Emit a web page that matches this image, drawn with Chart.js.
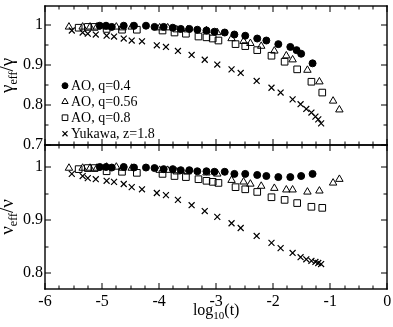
<!DOCTYPE html>
<html>
<head>
<meta charset="utf-8">
<script src="https://cdn.jsdelivr.net/npm/chart.js@4.4.1/dist/chart.umd.min.js"></script>
<style>
  html, body { margin: 0; padding: 0; background: #fff; }
  #wrap { position: relative; width: 393px; height: 327px; }
  canvas { position: absolute; left: 0; top: 0; }
</style>
</head>
<body>
<div id="wrap">
  <canvas id="gamma" width="393" height="327"></canvas>
  <canvas id="nu" width="393" height="327"></canvas>
</div>
<script>
// axis ticks
const xTicks = [-6, -5, -4, -3, -2, -1, 0];
const yTicksTop = [0.7, 0.8, 0.9, 1];
const yTicksBottom = [0.8, 0.9, 1];
const labels = ['AO, q=0.4', 'AO, q=0.56', 'AO, q=0.8', 'Yukawa, z=1.8'];

// AO, q=0.4 (filled circles)
const q04XTop = [-5.04, -4.93, -4.83, -4.62, -4.44, -4.23, -4.08, -3.92, -3.76, -3.62, -3.47, -3.33, -3.17, -3.03, -2.85, -2.68, -2.49, -2.28, -2.12, -1.91, -1.70, -1.59, -1.51, -1.31];
const q04Gamma = [0.998, 0.998, 0.995, 0.998, 0.998, 0.998, 0.995, 0.995, 0.993, 0.990, 0.990, 0.988, 0.986, 0.983, 0.981, 0.976, 0.973, 0.966, 0.961, 0.952, 0.945, 0.937, 0.928, 0.904];
const q04XBottom = [-5.04, -4.93, -4.83, -4.62, -4.44, -4.23, -4.08, -3.92, -3.76, -3.62, -3.47, -3.33, -3.17, -3.03, -2.85, -2.68, -2.49, -2.28, -2.12, -1.91, -1.70, -1.51, -1.31];
const q04Nu = [1.0, 1.0, 0.999, 1.0, 0.999, 0.999, 0.998, 0.996, 0.996, 0.994, 0.994, 0.992, 0.992, 0.991, 0.991, 0.987, 0.987, 0.985, 0.983, 0.981, 0.981, 0.983, 0.987];

// AO, q=0.56 (open triangles)
const q056X = [-5.58, -5.34, -5.21, -5.09, -4.92, -4.75, -4.64, -4.48, -3.99, -3.85, -3.69, -3.50, -3.17, -2.98, -2.73, -2.52, -2.40, -2.21, -1.98, -1.77, -1.66, -1.40, -1.19, -0.95, -0.84];
const q056Gamma = [0.995, 0.995, 0.995, 0.995, 0.995, 0.995, 0.993, 0.995, 0.993, 0.993, 0.988, 0.988, 0.986, 0.981, 0.966, 0.959, 0.954, 0.947, 0.935, 0.923, 0.913, 0.887, 0.858, 0.810, 0.788];
const q056Nu = [0.998, 0.998, 0.998, 0.998, 1.0, 1.0, 0.998, 0.998, 0.994, 0.994, 0.991, 0.991, 0.989, 0.987, 0.975, 0.972, 0.968, 0.964, 0.960, 0.957, 0.957, 0.953, 0.955, 0.970, 0.977];

// AO, q=0.8 (open squares)
const q08X = [-5.41, -5.25, -5.13, -4.92, -4.65, -4.39, -3.94, -3.73, -3.53, -3.31, -3.17, -3.06, -2.96, -2.66, -2.49, -2.28, -2.03, -1.80, -1.58, -1.33, -1.14];
const q08Gamma = [0.993, 0.995, 0.995, 0.990, 0.988, 0.988, 0.986, 0.981, 0.978, 0.971, 0.969, 0.966, 0.961, 0.952, 0.947, 0.937, 0.923, 0.908, 0.889, 0.858, 0.831];
const q08Nu = [0.996, 0.998, 0.998, 0.992, 0.991, 0.989, 0.987, 0.983, 0.981, 0.977, 0.974, 0.972, 0.970, 0.962, 0.958, 0.953, 0.943, 0.938, 0.932, 0.925, 0.923];

// Yukawa, z=1.8 (crosses)
const yukX = [-5.53, -5.34, -5.25, -5.11, -4.92, -4.79, -4.62, -4.48, -4.30, -4.04, -3.88, -3.67, -3.43, -3.20, -2.98, -2.73, -2.57, -2.29, -2.03, -1.87, -1.66, -1.52, -1.42, -1.33, -1.26, -1.21, -1.16];
const yukGamma = [0.986, 0.981, 0.978, 0.976, 0.973, 0.971, 0.966, 0.961, 0.959, 0.949, 0.945, 0.935, 0.925, 0.913, 0.901, 0.889, 0.880, 0.860, 0.843, 0.831, 0.814, 0.802, 0.790, 0.781, 0.771, 0.764, 0.754];
const yukNu = [0.987, 0.983, 0.979, 0.977, 0.974, 0.972, 0.968, 0.962, 0.958, 0.951, 0.947, 0.938, 0.928, 0.917, 0.906, 0.894, 0.885, 0.870, 0.857, 0.847, 0.838, 0.830, 0.826, 0.823, 0.821, 0.819, 0.817];

const SERIF = "'Liberation Serif', 'Times New Roman', serif";
const markers = [
  { pointStyle: 'circle', radius: 3.5, fill: '#000', width: 1 },
  { pointStyle: 'triangle', radius: 4.3, fill: 'rgba(0,0,0,0)', width: 1 },
  { pointStyle: 'rect', radius: 4.7, fill: 'rgba(0,0,0,0)', width: 1 },
  { pointStyle: 'crossRot', radius: 4.2, fill: 'rgba(0,0,0,0)', width: 1.2 }
];

function richText(ctx, parts, x, y) {
  let w = 0;
  parts.forEach(p => { ctx.font = p.size + 'px ' + SERIF; w += ctx.measureText(p.t).width; });
  let cx = x - w / 2;
  parts.forEach(p => {
    ctx.font = p.size + 'px ' + SERIF;
    ctx.fillText(p.t, cx, y + (p.dy || 0));
    cx += ctx.measureText(p.t).width;
  });
}

// frame, inward ticks, titles and legend
const decor = {
  id: 'decor',
  afterDraw(chart, args, opts) {
    const ctx = chart.ctx;
    const a = chart.chartArea;
    const x = chart.scales.x, y = chart.scales.y;
    ctx.save();
    ctx.setLineDash([]);
    ctx.globalAlpha = 1;
    ctx.fillStyle = '#000';
    const L = Math.round(a.left), R = Math.round(a.right), T = Math.round(a.top), B = Math.round(a.bottom);
    // box
    ctx.fillRect(L - 0.7, T - 0.7, R - L + 1.4, 1.4);
    ctx.fillRect(L - 0.7, B - 0.7, R - L + 1.4, 1.4);
    ctx.fillRect(L - 0.7, T - 0.7, 1.4, B - T + 1.4);
    ctx.fillRect(R - 0.7, T - 0.7, 1.4, B - T + 1.4);
    // x ticks every 0.25, inward on both edges
    for (let k = -24; k <= 0; k++) {
      const px = Math.round(x.getPixelForValue(k / 4));
      const len = k % 4 === 0 ? 6 : 3.5;
      ctx.fillRect(px - 0.5, B - len, 1, len);
      ctx.fillRect(px - 0.5, T, 1, len);
    }
    // y ticks every 0.05
    for (let k = Math.ceil(y.min * 20 - 1e-6); k <= Math.floor(y.max * 20 + 1e-6); k++) {
      const py = Math.round(y.getPixelForValue(k / 20));
      const len = k % 2 === 0 ? 6 : 3.5;
      ctx.fillRect(L, py - 0.5, len, 1);
      ctx.fillRect(R - len, py - 0.5, len, 1);
    }
    // y title, rotated
    ctx.save();
    ctx.translate(13, (a.top + a.bottom) / 2);
    ctx.rotate(-Math.PI / 2);
    ctx.textBaseline = 'alphabetic';
    richText(ctx, [
      { t: opts.sym, size: 19 },
      { t: 'eff', size: 12, dy: 4 },
      { t: '/' + opts.sym, size: 19 }
    ], 0, 0);
    ctx.restore();
    if (opts.xTitle) {
      richText(ctx, [
        { t: 'log', size: 16 },
        { t: '10', size: 11, dy: 4 },
        { t: '(t)', size: 16 }
      ], (a.left + a.right) / 2, 315);
    }
    if (opts.legend) {
      ctx.textBaseline = 'middle';
      chart.data.datasets.forEach((ds, i) => {
        const m = markers[i];
        const ly = a.top + 80 + i * 16;
        ctx.fillStyle = m.fill;
        ctx.strokeStyle = '#000';
        ctx.lineWidth = m.width;
        Chart.helpers.drawPoint(ctx, { pointStyle: m.pointStyle, radius: m.radius * 0.85, rotation: 0, borderWidth: m.width }, a.left + 20, ly);
        ctx.fillStyle = '#000';
        ctx.font = '14px ' + SERIF;
        ctx.fillText(ds.label, a.left + 26, ly + 1);
      });
    }
    ctx.restore();
  }
};

const fmt = v => String(Math.round(v * 100) / 100);

function panel(id, yMin, yMax, yTicks, series, pad, deco) {
  return new Chart(document.getElementById(id), {
    type: 'scatter',
    data: {
      datasets: series.map((s, i) => ({
        label: labels[i],
        data: s.x.map((v, j) => ({ x: v, y: s.y[j] })),
        pointStyle: markers[i].pointStyle,
        pointRadius: markers[i].radius,
        pointBackgroundColor: markers[i].fill,
        pointBorderColor: '#000',
        pointBorderWidth: markers[i].width
      }))
    },
    options: {
      responsive: false,
      animation: false,
      layout: { padding: pad },
      plugins: { legend: { display: false }, tooltip: { enabled: false }, decor: deco },
      scales: {
        x: {
          type: 'linear', min: -6, max: 0,
          display: !!deco.xTitle,
          grid: { display: false, drawTicks: false },
          border: { display: false },
          afterBuildTicks: s => { s.ticks = xTicks.map(v => ({ value: v })); },
          afterFit: s => { if (s.options.display) s.height = 38; s.paddingLeft = 0; s.paddingRight = 0; },
          ticks: { color: '#000', font: { family: SERIF, size: 16 }, padding: 3, maxRotation: 0, callback: fmt }
        },
        y: {
          type: 'linear', min: yMin, max: yMax,
          grid: { display: false, drawTicks: false },
          border: { display: false },
          afterBuildTicks: s => { s.ticks = yTicks.map(v => ({ value: v })); },
          afterFit: s => { s.width = 45; s.paddingTop = 0; s.paddingBottom = 0; },
          ticks: { color: '#000', font: { family: SERIF, size: 16 }, padding: 2, callback: fmt }
        }
      }
    },
    plugins: [decor]
  });
}

panel('gamma', 0.7, 1.048, yTicksTop, [
  { x: q04XTop, y: q04Gamma },
  { x: q056X, y: q056Gamma },
  { x: q08X, y: q08Gamma },
  { x: yukX, y: yukGamma }
], { left: 0, right: 5, top: 1, bottom: 182 }, { sym: 'γ', legend: true });

panel('nu', 0.77, 1.0415, yTicksBottom, [
  { x: q04XBottom, y: q04Nu },
  { x: q056X, y: q056Nu },
  { x: q08X, y: q08Nu },
  { x: yukX, y: yukNu }
], { left: 0, right: 5, top: 145, bottom: 0 }, { sym: 'ν', xTitle: true });
</script>
</body>
</html>
